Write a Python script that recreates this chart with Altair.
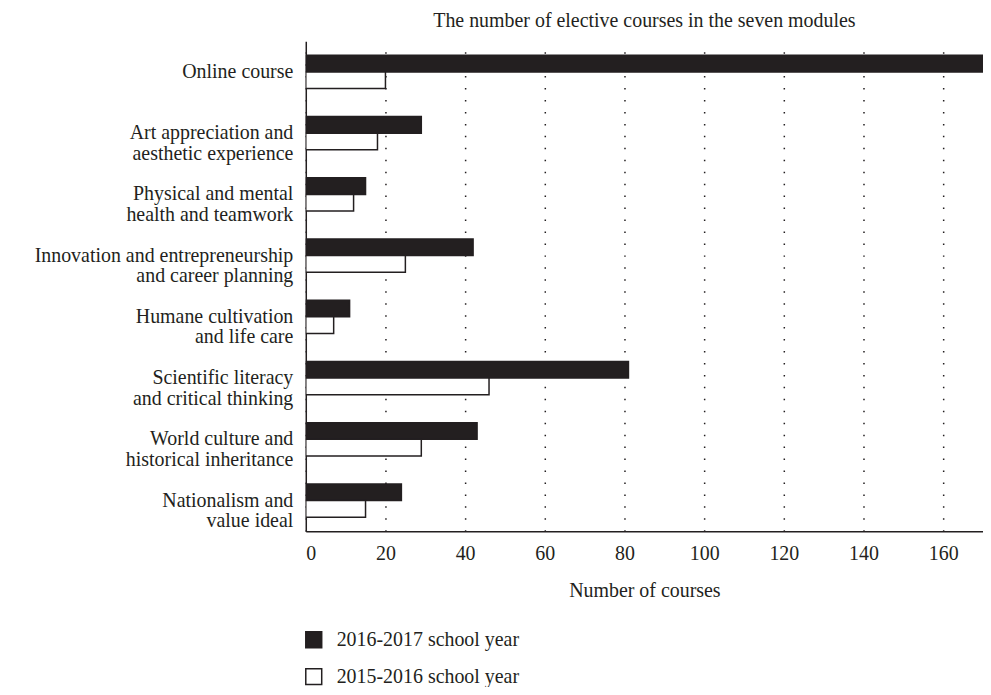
import altair as alt
import pandas as pd

# ---- data ----
categories = [
    "Online course",
    "Art appreciation and|aesthetic experience",
    "Physical and mental|health and teamwork",
    "Innovation and entrepreneurship|and career planning",
    "Humane cultivation|and life care",
    "Scientific literacy|and critical thinking",
    "World culture and|historical inheritance",
    "Nationalism and|value ideal",
]
series = ["2016-2017 school year", "2015-2016 school year"]
values_2016_2017 = [186, 29, 15, 42, 11, 81, 43, 24]
values_2015_2016 = [20, 18, 12, 25, 7, 46, 29, 15]
x_ticks = [0, 20, 40, 60, 80, 100, 120, 140, 160]

rows = []
for cat, a, b in zip(categories, values_2016_2017, values_2015_2016):
    rows.append({"category": cat, "year": series[0], "courses": a})
    rows.append({"category": cat, "year": series[1], "courses": b})
df = pd.DataFrame(rows)

FONT = "Liberation Serif"
INK = "#231f20"

chart = alt.Chart(df).mark_bar(stroke=INK, strokeWidth=1.5, clip=True).encode(
    y=alt.Y(
        "category:N",
        sort=categories,
        scale=alt.Scale(paddingInner=0.46, paddingOuter=0.23),
        axis=alt.Axis(
            title=None, ticks=False, labelPadding=13, grid=False,
            labelExpr="split(datum.label, '|')",
            labelFont=FONT, labelFontSize=20, labelLineHeight=20.5,
            labelColor=INK, labelLimit=0,
            domainColor=INK, domainWidth=1.5,
        ),
    ),
    yOffset=alt.YOffset("year:N", sort=series,
                        scale=alt.Scale(paddingInner=0, paddingOuter=0)),
    x=alt.X(
        "courses:Q",
        scale=alt.Scale(domain=[0, 170], nice=False, zero=True),
        axis=alt.Axis(
            values=x_ticks, title="Number of courses", ticks=False,
            grid=True, gridDash=[1.5, 10.5], gridColor=INK, gridWidth=1.5,
            labelPadding=12, labelFont=FONT, labelFontSize=20, labelColor=INK,
            titleFont=FONT, titleFontSize=20, titleFontWeight="normal",
            titleColor=INK, titlePadding=18,
            domainColor=INK, domainWidth=1.5,
        ),
    ),
    color=alt.Color(
        "year:N",
        sort=series,
        scale=alt.Scale(domain=series, range=[INK, "white"]),
        legend=alt.Legend(
            title=None, orient="none", legendX=-2, legendY=591,
            symbolType="square", symbolSize=256,
            symbolStrokeColor=INK, symbolStrokeWidth=1.5,
            labelFont=FONT, labelFontSize=20, labelColor=INK, labelLimit=0,
            labelOffset=13, rowPadding=15, direction="vertical",
        ),
    ),
).properties(
    width=680,
    height=492,
    title=alt.TitleParams(
        "The number of elective courses in the seven modules",
        font=FONT, fontSize=20, fontWeight="normal", color=INK,
        anchor="middle", offset=10,
    ),
    autosize=alt.AutoSizeParams(type="none"),
    padding={"left": 299, "top": 32, "right": 0, "bottom": 155},
).configure_view(stroke=None)

chart.save("out.html", embed_options={"renderer": "svg", "actions": False})
